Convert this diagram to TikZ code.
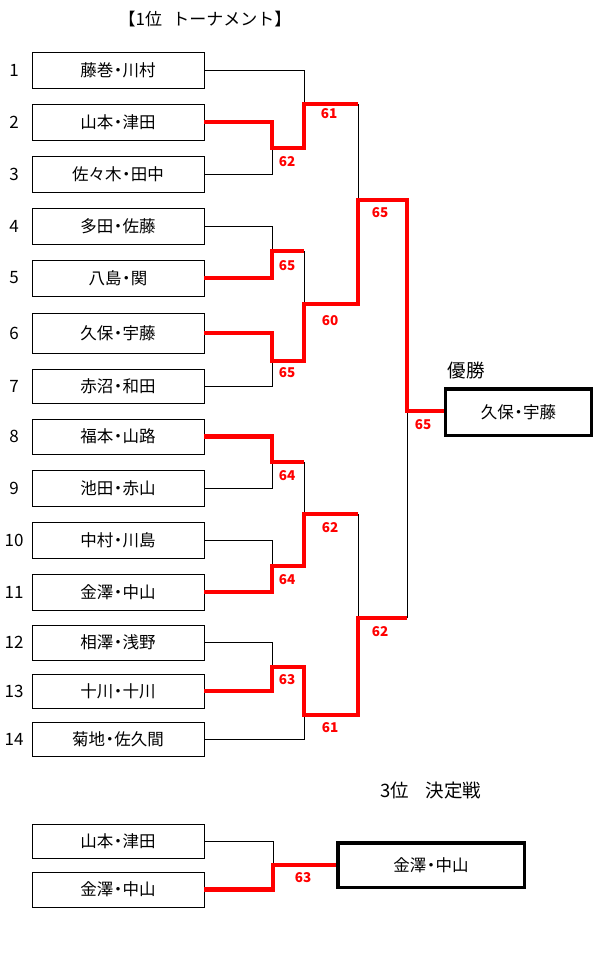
\documentclass[tikz,border=0pt]{standalone}
\usepackage{fontspec}
\setmainfont{Noto Sans CJK JP}
\newcommand\mdot{\kern-0.22em・\kern-0.22em}
\begin{document}
\begin{tikzpicture}[x=1pt,y=-1pt,
  box/.style={draw,line width=0.8pt,fill=white,minimum width=172pt,minimum height=36pt,inner sep=0pt,font=\fontsize{16.5}{18}\selectfont},
  winbox/.style={draw,line width=3.5pt,fill=white,inner sep=0pt,font=\fontsize{16.5}{18}\selectfont},
  num/.style={font=\fontsize{17}{19}\selectfont,inner sep=0pt},
  score/.style={text=red,font=\bfseries\fontsize{13.5}{15}\selectfont,inner sep=0pt},
  title/.style={inner sep=0pt},
  thin/.style={draw=black,line width=0.9pt},
  win/.style={draw=red,line width=4.5pt,line join=miter},
]
\useasboundingbox (0,0) rectangle (600,959);
\fill[white] (0,0) rectangle (600,959);

% titles
\node[title,font=\fontsize{17}{19}\selectfont] (t1) at (205,19) {【1位\hspace{0.6em}トーナメント】};
\node[title,font=\fontsize{18.5}{20}\selectfont] (t2) at (466,370) {優勝};
\node[title,font=\fontsize{18.5}{20}\selectfont] (t3) at (431,791) {3位\hspace{0.9em}決定戦};

% entry boxes
\node[box] (b1) at (118,70) {藤巻\mdot 川村};
\node[box] (b2) at (118,122) {山本\mdot 津田};
\node[box] (b3) at (118,174) {佐々木\mdot 田中};
\node[box] (b4) at (118,226) {多田\mdot 佐藤};
\node[box] (b5) at (118,278) {八島\mdot 関};
\node[box,minimum height=40pt] (b6) at (118,333) {久保\mdot 宇藤};
\node[box,minimum height=34pt] (b7) at (118,386) {赤沼\mdot 和田};
\node[box,minimum height=35pt] (b8) at (118,436.5) {福本\mdot 山路};
\node[box] (b9) at (118,488) {池田\mdot 赤山};
\node[box] (b10) at (118,540) {中村\mdot 川島};
\node[box] (b11) at (118,592) {金澤\mdot 中山};
\node[box,minimum height=35pt] (b12) at (118,642.5) {相澤\mdot 浅野};
\node[box,minimum height=34pt] (b13) at (118,691) {十川\mdot 十川};
\node[box,minimum height=34pt] (b14) at (118,739) {菊地\mdot 佐久間};

% numbers
\node[num] (n1) at (14,70) {1};
\node[num] (n2) at (14,122) {2};
\node[num] (n3) at (14,174) {3};
\node[num] (n4) at (14,226) {4};
\node[num] (n5) at (14,278) {5};
\node[num] (n6) at (14,333) {6};
\node[num] (n7) at (14,386) {7};
\node[num] (n8) at (14,436.5) {8};
\node[num] (n9) at (14,488) {9};
\node[num] (n10) at (14,540) {10};
\node[num] (n11) at (14,592) {11};
\node[num] (n12) at (14,642.5) {12};
\node[num] (n13) at (14,691) {13};
\node[num] (n14) at (14,739) {14};

% champion box
\node[winbox,minimum width=146pt,minimum height=46.5pt] (champ) at (518.5,412) {久保\mdot 宇藤};

% third place boxes
\node[box,minimum height=34pt] (c1) at (118,841) {山本\mdot 津田};
\node[box,minimum height=35pt] (c2) at (118,889.5) {金澤\mdot 中山};
\node[winbox,minimum width=186.5pt,minimum height=44.5pt] (third) at (431,865) {金澤\mdot 中山};

% junction coordinates
\coordinate (j23) at (272,148);
\coordinate (j45) at (272,251);
\coordinate (j67) at (272,361);
\coordinate (j89) at (272,462);
\coordinate (j1011) at (272,566);
\coordinate (j1213) at (272,667);
\coordinate (k13) at (304,104);
\coordinate (k47) at (304,304);
\coordinate (k811) at (304,514);
\coordinate (k1214) at (304,715);
\coordinate (m17) at (358,200);
\coordinate (m814) at (358,618);
\coordinate (f) at (407,411);
\coordinate (tj) at (273,865);

% black (losing) lines
\draw[thin] (b1.east) -| (k13);
\draw[thin] (b3.east) -| (j23);
\draw[thin] (k13 -| m17) -- (m17);
\draw[thin] (b4.east) -| (j45);
\draw[thin] (j45 -| k47) -- (k47);
\draw[thin] (b7.east) -| (j67);
\draw[thin] (b9.east) -| (j89);
\draw[thin] (j89 -| k811) -- (k811);
\draw[thin] (b10.east) -| (j1011);
\draw[thin] (k811 -| m814) -- (m814);
\draw[thin] (b12.east) -| (j1213);
\draw[thin] (b14.east) -| (k1214);
\draw[thin] (m814 -| f) -- (f);
\draw[thin] (c1.east) -| (tj);

% red (winning) lines
\draw[win] (b2.east) -| (j23) -- (j23 -| k13) -- (k13) -- (k13 -| m17);
\draw[win] (b5.east) -| (j45) -- (j45 -| k47);
\draw[win] (b6.east) -| (j67) -- (j67 -| k47) -- (k47) -- (k47 -| m17) -- (m17) -- (m17 -| f) -- (f) -- (f -| champ.west);
\draw[win] (b8.east) -| (j89) -- (j89 -| k811);
\draw[win] (b11.east) -| (j1011) -- (j1011 -| k811) -- (k811) -- (k811 -| m814);
\draw[win] (b13.east) -| (j1213) -- (j1213 -| k1214) -- (k1214) -- (k1214 -| m814) -- (m814) -- (m814 -| f);
\draw[win] (c2.east) -| (tj) -- (tj -| third.west);

% scores
\node[score] (s1) at (329,114) {61};
\node[score] (s2) at (287,162) {62};
\node[score] (s3) at (380,213) {65};
\node[score] (s4) at (287,266) {65};
\node[score] (s5) at (330,321) {60};
\node[score] (s6) at (287,373) {65};
\node[score] (s7) at (423,425) {65};
\node[score] (s8) at (287,476) {64};
\node[score] (s9) at (330,528) {62};
\node[score] (s10) at (287,580) {64};
\node[score] (s11) at (380,632) {62};
\node[score] (s12) at (287,680) {63};
\node[score] (s13) at (330,728) {61};
\node[score] (s14) at (303,878) {63};
\end{tikzpicture}
\end{document}
